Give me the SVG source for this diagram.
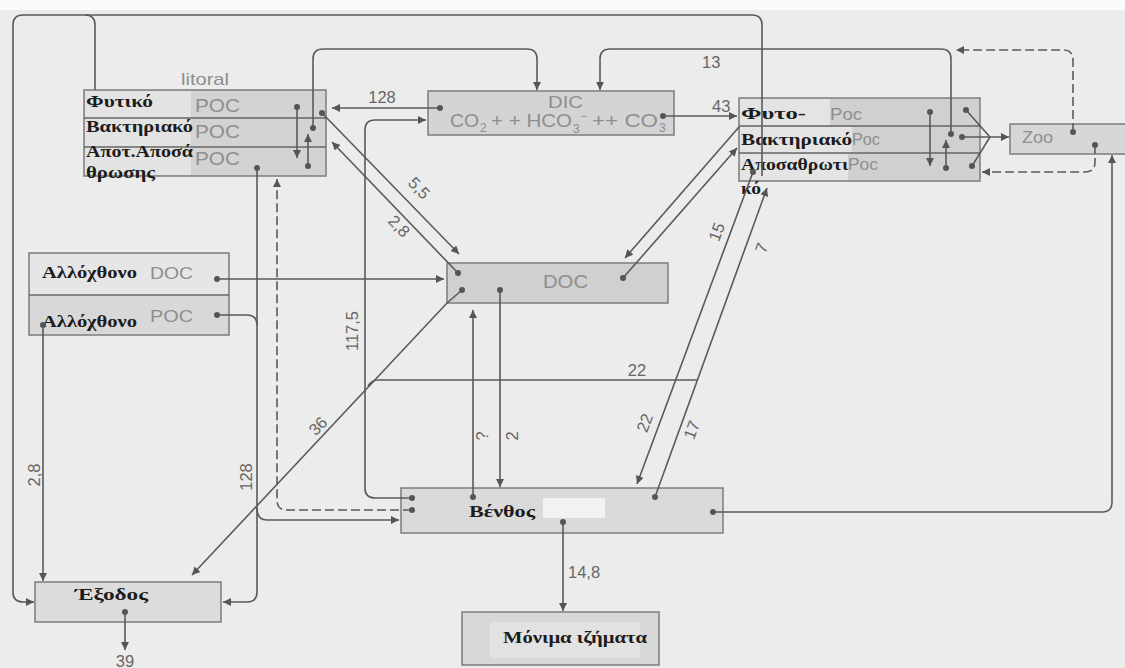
<svg xmlns="http://www.w3.org/2000/svg" width="1125" height="668" viewBox="0 0 1125 668">
<defs>
<marker id="ah" viewBox="0 0 10 10" refX="10" refY="5" markerWidth="9" markerHeight="8" markerUnits="userSpaceOnUse" orient="auto"><path d="M0,0 L10,5 L0,10 z" fill="#555"/></marker>
<marker id="dot" viewBox="0 0 10 10" refX="5" refY="5" markerWidth="6" markerHeight="6" markerUnits="userSpaceOnUse"><circle cx="5" cy="5" r="5" fill="#555"/></marker>
</defs>
<style>
.box{stroke:#7c7c7c;stroke-width:1.5}
.div{stroke:#666;stroke-width:1.5}
.c{fill:none;stroke:#5a5a5a;stroke-width:1.6}
.d{stroke-dasharray:9 4}
.g{font-family:"Liberation Sans",Arial,sans-serif;fill:#8e8e8e;font-size:17px}
.s{font-family:"Liberation Sans",Arial,sans-serif;fill:#8e8e8e;font-size:12px}
.n{font-family:"Liberation Sans",Arial,sans-serif;fill:#666;font-size:16.5px}
.b{font-family:"Liberation Serif","Times New Roman",serif;font-weight:bold;fill:#1c1c1c;font-size:16px}
</style>
<rect x="0" y="0" width="1125" height="668" fill="#ececec"/>
<rect x="0" y="0" width="1125" height="10" fill="#fafafa"/>

<g id="littoral">
<rect x="84" y="90" width="242" height="86" fill="#d3d3d3" class="box"/>
<rect x="85" y="91" width="106" height="84" fill="#e3e3e3"/>
<line x1="84" y1="118" x2="326" y2="118" class="div"/>
<line x1="84" y1="147" x2="326" y2="147" class="div"/>
<text x="181" y="85" class="g" textLength="48" lengthAdjust="spacingAndGlyphs">litoral</text>
<text x="195" y="112" class="g" style="font-size:18px" textLength="45" lengthAdjust="spacingAndGlyphs">POC</text>
<text x="195" y="138" class="g" style="font-size:18px" textLength="45" lengthAdjust="spacingAndGlyphs">POC</text>
<text x="195" y="165" class="g" style="font-size:18px" textLength="45" lengthAdjust="spacingAndGlyphs">POC</text>
<text x="86" y="107" class="b" textLength="67" lengthAdjust="spacingAndGlyphs">Φυτικό</text>
<text x="86" y="132" class="b" textLength="107" lengthAdjust="spacingAndGlyphs">Βακτηριακό</text>
<text x="86" y="157" class="b" textLength="107" lengthAdjust="spacingAndGlyphs">Αποτ.Αποσά</text>
<text x="86" y="178" class="b" textLength="69" lengthAdjust="spacingAndGlyphs">θρωσης</text>
</g>

<g id="dic">
<rect x="428" y="91" width="246" height="44" fill="#d4d4d4" class="box"/>
<text x="548" y="108" class="g" textLength="35" lengthAdjust="spacingAndGlyphs">DIC</text>
<text x="450" y="127" class="g" style="font-size:18px" textLength="29" lengthAdjust="spacingAndGlyphs">CO</text>
<text x="480" y="132" class="s">2</text>
<text x="491" y="127" class="g" style="font-size:18px" textLength="81" lengthAdjust="spacingAndGlyphs">+ + HCO</text>
<text x="573" y="133" class="s">3</text>
<text x="580" y="120" class="s">−</text>
<text x="592" y="127" class="g" style="font-size:18px" textLength="66" lengthAdjust="spacingAndGlyphs">++ CO</text>
<text x="659" y="132" class="s">3</text>
</g>

<g id="pelagic">
<rect x="739" y="98" width="241" height="83" fill="#d0d0d0" class="box"/>
<rect x="740" y="99" width="90" height="27" fill="#e4e4e4"/>
<rect x="740" y="127" width="112" height="26" fill="#e4e4e4"/>
<rect x="740" y="154" width="108" height="26" fill="#e4e4e4"/>
<line x1="739" y1="126" x2="980" y2="126" class="div"/>
<line x1="739" y1="153" x2="980" y2="153" class="div"/>
<text x="830" y="120" class="g" textLength="32" lengthAdjust="spacingAndGlyphs">Poc</text>
<text x="852" y="145" class="g" textLength="28" lengthAdjust="spacingAndGlyphs">Poc</text>
<text x="848" y="170" class="g" textLength="30" lengthAdjust="spacingAndGlyphs">Poc</text>
<text x="741" y="119" class="b" textLength="65" lengthAdjust="spacingAndGlyphs">Φυτο-</text>
<text x="741" y="145" class="b" textLength="111" lengthAdjust="spacingAndGlyphs">Βακτηριακό</text>
<text x="741" y="170" class="b" textLength="107" lengthAdjust="spacingAndGlyphs">Αποσαθρωτι</text>
<text x="741" y="194" class="b" textLength="20" lengthAdjust="spacingAndGlyphs">κό</text>
</g>

<g id="zoo">
<rect x="1010" y="124" width="125" height="30" fill="#d6d6d6" class="box"/>
<text x="1022" y="143" class="g" textLength="31" lengthAdjust="spacingAndGlyphs">Zoo</text>
</g>

<g id="doc">
<rect x="447" y="263" width="221" height="40" fill="#d0d0d0" class="box"/>
<text x="543" y="288" class="g" style="font-size:18px" textLength="45" lengthAdjust="spacingAndGlyphs">DOC</text>
</g>

<g id="allochthonous">
<rect x="29" y="253" width="200" height="82" fill="#d8d8d8" class="box"/>
<rect x="30" y="254" width="198" height="41" fill="#e6e6e6"/>
<line x1="29" y1="295" x2="229" y2="295" class="div"/>
<text x="150" y="279" class="g" textLength="43" lengthAdjust="spacingAndGlyphs">DOC</text>
<text x="150" y="322" class="g" textLength="43" lengthAdjust="spacingAndGlyphs">POC</text>
<text x="42" y="278" class="b" textLength="95" lengthAdjust="spacingAndGlyphs">Αλλόχθονο</text>
<text x="42" y="327" class="b" textLength="95" lengthAdjust="spacingAndGlyphs">Αλλόχθονο</text>
</g>

<g id="benthos">
<rect x="401" y="488" width="322" height="45" fill="#dadada" class="box"/>
<rect x="543" y="498" width="62" height="20" fill="#f2f2f2"/>
<text x="469" y="517" class="b" textLength="66" lengthAdjust="spacingAndGlyphs">Βένθος</text>
</g>

<g id="sediments">
<rect x="462" y="612" width="197" height="53" fill="#d8d8d8" class="box"/>
<rect x="490" y="622" width="150" height="36" fill="#e2e2e2"/>
<text x="503" y="643" class="b" textLength="144" lengthAdjust="spacingAndGlyphs">Μόνιμα ιζήματα</text>
</g>

<g id="exit">
<rect x="35" y="582" width="186" height="40" fill="#dcdcdc" class="box"/>
<text x="75" y="600" class="b" textLength="73" lengthAdjust="spacingAndGlyphs">Έξοδος</text>
</g>

<g id="connectors">
<path class="c" d="M440,108 H332" marker-start="url(#dot)" marker-end="url(#ah)"/>
<path class="c" d="M322,113 L459,254" marker-start="url(#dot)" marker-end="url(#ah)"/>
<path class="c" d="M458,273 L332,142" marker-start="url(#dot)" marker-end="url(#ah)"/>
<path class="c" d="M313,128 V59 Q313,49 323,49 H527 Q537,49 537,59 V90" marker-start="url(#dot)" marker-end="url(#ah)"/>
<path class="c" d="M951,134 V59 Q951,49 941,49 H610 Q600,49 600,59 V90" marker-start="url(#dot)" marker-end="url(#ah)"/>
<path class="c" d="M663,116 H737" marker-start="url(#dot)" marker-end="url(#ah)"/>
<path class="c" d="M412,498 H375 Q365,498 365,488 V130 Q365,120 375,120 H426" marker-start="url(#dot)" marker-end="url(#ah)"/>
<path class="c" d="M217,279 H444" marker-start="url(#dot)" marker-end="url(#ah)"/>
<path class="c" d="M462,290 L447,303 L192,575" marker-start="url(#dot)" marker-end="url(#ah)"/>
<path class="c" d="M697,380 H378 Q372,380 368,386"/>
<path class="c" d="M753,172 L637,484" marker-start="url(#dot)" marker-end="url(#ah)"/>
<path class="c" d="M655,497 L767,188" marker-start="url(#dot)" marker-end="url(#ah)"/>
<path class="c" d="M739,127 L625,258" marker-end="url(#ah)"/>
<path class="c" d="M623,278 L737,148" marker-start="url(#dot)" marker-end="url(#ah)"/>
<path class="c" d="M473,497 V310" marker-start="url(#dot)" marker-end="url(#ah)"/>
<path class="c" d="M500,290 V487" marker-start="url(#dot)" marker-end="url(#ah)"/>
<path class="c" d="M563,522 V611" marker-start="url(#dot)" marker-end="url(#ah)"/>
<path class="c" d="M713,512 H1102 Q1112,512 1112,502 V155" marker-start="url(#dot)" marker-end="url(#ah)"/>
<path class="c d" d="M1073,132 V60 Q1073,50 1063,50 H956" marker-start="url(#dot)" marker-end="url(#ah)"/>
<path class="c d" d="M1095,145 V162 Q1095,172 1085,172 H982" marker-start="url(#dot)" marker-end="url(#ah)"/>
<path class="c" d="M966,110 L990,137" marker-start="url(#dot)"/>
<path class="c" d="M972,166 L990,137" marker-start="url(#dot)"/>
<path class="c" d="M962,137 H1009" marker-start="url(#dot)" marker-end="url(#ah)"/>
<path class="c" d="M930,112 V166" marker-start="url(#dot)" marker-end="url(#ah)"/>
<path class="c" d="M946,168 V140" marker-start="url(#dot)" marker-end="url(#ah)"/>
<path class="c" d="M297,107 V158" marker-start="url(#dot)" marker-end="url(#ah)"/>
<path class="c" d="M308,166 V134" marker-start="url(#dot)" marker-end="url(#ah)"/>
<path class="c d" d="M412,510 H287 Q277,510 277,500 V179" marker-start="url(#dot)" marker-end="url(#ah)"/>
<path class="c" d="M257,168 V592 Q257,602 247,602 H223" marker-start="url(#dot)" marker-end="url(#ah)"/>
<path class="c" d="M257,508 Q257,520 267,520 H399" marker-end="url(#ah)"/>
<path class="c" d="M217,315 H247 Q257,315 257,325" marker-start="url(#dot)"/>
<path class="c" d="M43,325 V581" marker-start="url(#dot)" marker-end="url(#ah)"/>
<path class="c" d="M762,176 V25 Q762,15 752,15 H23 Q13,15 13,25 V592 Q13,602 23,602 H34" marker-end="url(#ah)"/>
<path class="c" d="M95,90 V25 Q95,15 85,15"/>
<path class="c" d="M125,612 V650" marker-start="url(#dot)" marker-end="url(#ah)"/>

<text x="382" y="103" class="n" text-anchor="middle">128</text>
<text x="712" y="112" class="n">43</text>
<text x="702" y="68" class="n">13</text>
<text class="n" text-anchor="middle" transform="translate(415,192) rotate(46)">5,5</text>
<text class="n" text-anchor="middle" transform="translate(395,230) rotate(46)">2,8</text>
<text class="n" text-anchor="middle" transform="translate(358,331) rotate(-90)">117,5</text>
<text class="n" text-anchor="middle" transform="translate(322,430) rotate(-46)">36</text>
<text x="637" y="376" class="n" text-anchor="middle">22</text>
<text class="n" text-anchor="middle" transform="translate(40,475) rotate(-90)">2,8</text>
<text class="n" text-anchor="middle" transform="translate(252,477) rotate(-90)">128</text>
<text class="n" text-anchor="middle" transform="translate(488,436) rotate(-90)">?</text>
<text class="n" text-anchor="middle" transform="translate(518,436) rotate(-90)">2</text>
<text class="n" text-anchor="middle" transform="translate(650,425) rotate(-69)">22</text>
<text class="n" text-anchor="middle" transform="translate(697,432) rotate(-69)">17</text>
<text class="n" text-anchor="middle" transform="translate(722,234) rotate(-69)">15</text>
<text class="n" text-anchor="middle" transform="translate(767,250) rotate(-69)">7</text>
<text x="568" y="578" class="n">14,8</text>
<text x="125" y="667" class="n" text-anchor="middle">39</text>
</g>
</svg>
